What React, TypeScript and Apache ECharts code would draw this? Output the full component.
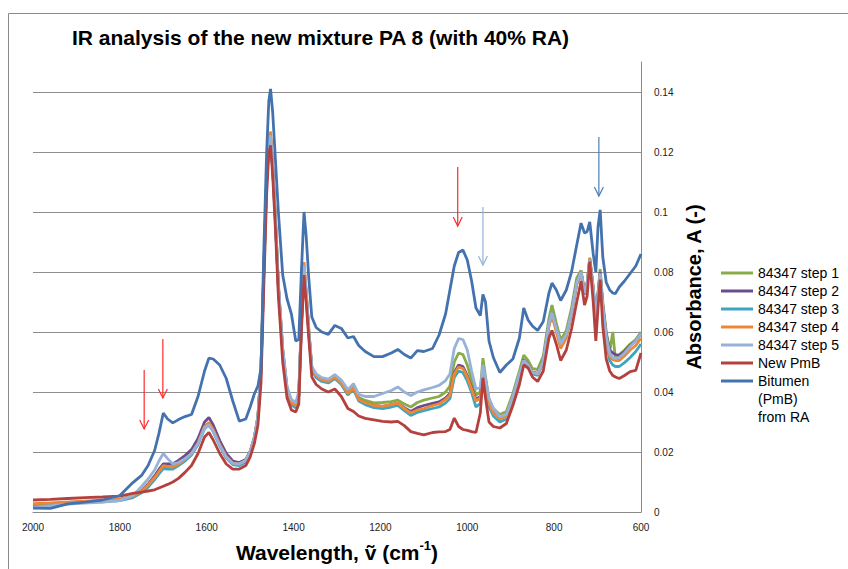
import React, { useEffect, useRef } from "react";
import * as echarts from "echarts";

const wavenumbers = [
  2000, 1960, 1920, 1880, 1840, 1800, 1770, 1750, 1735, 1720,
  1710, 1700, 1690, 1678, 1665, 1650, 1635, 1620, 1605, 1595,
  1585, 1570, 1555, 1540, 1525, 1510, 1500, 1490, 1482, 1475,
  1468, 1462, 1457, 1453, 1448, 1442, 1435, 1425, 1415, 1405,
  1395, 1388, 1382, 1376, 1371, 1365, 1358, 1348, 1335, 1320,
  1305, 1290, 1275, 1262, 1250, 1235, 1215, 1195, 1175, 1160,
  1145, 1130, 1115, 1100, 1080, 1065, 1050, 1040, 1030, 1020,
  1010, 1000, 990, 980, 970, 964, 958, 950, 940, 925,
  910, 895, 880, 870, 860, 850, 838, 825, 812, 805,
  795, 785, 772, 760, 748, 738, 730, 724, 718, 710,
  704, 699, 694, 688, 680, 672, 665, 659, 650, 638,
  625, 612, 600,
];

const step1 = [
  0.0022, 0.0026, 0.0030, 0.0034, 0.0036, 0.0040, 0.0050, 0.0066, 0.0085, 0.0110,
  0.0130, 0.0150, 0.0148, 0.0150, 0.0162, 0.0178, 0.0198, 0.0232, 0.0285, 0.0295,
  0.0272, 0.0222, 0.0183, 0.0162, 0.0160, 0.0172, 0.0200, 0.0248, 0.0318, 0.0475,
  0.0830, 0.1110, 0.1235, 0.1250, 0.1145, 0.0980, 0.0755, 0.0540, 0.0412, 0.0368,
  0.0358, 0.0392, 0.0630, 0.0820, 0.0730, 0.0605, 0.0482, 0.0458, 0.0445, 0.0440,
  0.0455, 0.0435, 0.0400, 0.0420, 0.0382, 0.0372, 0.0364, 0.0365, 0.0368, 0.0373,
  0.0360, 0.0350, 0.0365, 0.0373, 0.0380, 0.0385, 0.0400, 0.0420, 0.0500, 0.0530,
  0.0525, 0.0490, 0.0440, 0.0390, 0.0400, 0.0513, 0.0450, 0.0375, 0.0345, 0.0325,
  0.0335, 0.0395, 0.0470, 0.0523, 0.0505, 0.0478, 0.0475, 0.0520, 0.0645, 0.0690,
  0.0630, 0.0573, 0.0605, 0.0680, 0.0780, 0.0805, 0.0735, 0.0765, 0.0848, 0.0750,
  0.0650, 0.0730, 0.0810, 0.0700, 0.0600, 0.0535, 0.0600, 0.0510, 0.0525, 0.0540,
  0.0560, 0.0575, 0.0600,
];

const step2 = [
  0.0025, 0.0028, 0.0032, 0.0035, 0.0037, 0.0041, 0.0053, 0.0072, 0.0093, 0.0120,
  0.0142, 0.0160, 0.0160, 0.0160, 0.0172, 0.0188, 0.0208, 0.0245, 0.0300, 0.0315,
  0.0290, 0.0238, 0.0195, 0.0170, 0.0165, 0.0175, 0.0202, 0.0250, 0.0318, 0.0475,
  0.0830, 0.1105, 0.1232, 0.1248, 0.1145, 0.0980, 0.0752, 0.0535, 0.0408, 0.0362,
  0.0352, 0.0388, 0.0628, 0.0815, 0.0728, 0.0602, 0.0478, 0.0453, 0.0440, 0.0435,
  0.0450, 0.0430, 0.0395, 0.0412, 0.0375, 0.0365, 0.0355, 0.0352, 0.0358, 0.0362,
  0.0348, 0.0335, 0.0348, 0.0355, 0.0362, 0.0367, 0.0380, 0.0395, 0.0465, 0.0490,
  0.0485, 0.0455, 0.0415, 0.0375, 0.0385, 0.0485, 0.0435, 0.0362, 0.0333, 0.0312,
  0.0322, 0.0382, 0.0455, 0.0508, 0.0492, 0.0466, 0.0462, 0.0505, 0.0628, 0.0665,
  0.0610, 0.0555, 0.0588, 0.0665, 0.0765, 0.0800, 0.0730, 0.0760, 0.0842, 0.0745,
  0.0648, 0.0725, 0.0800, 0.0688, 0.0592, 0.0540, 0.0530, 0.0525, 0.0522, 0.0535,
  0.0555, 0.0570, 0.0595,
];

const step3 = [
  0.0020, 0.0024, 0.0029, 0.0032, 0.0034, 0.0038, 0.0048, 0.0064, 0.0083, 0.0108,
  0.0127, 0.0145, 0.0143, 0.0143, 0.0155, 0.0170, 0.0190, 0.0225, 0.0278, 0.0290,
  0.0268, 0.0220, 0.0180, 0.0158, 0.0155, 0.0167, 0.0195, 0.0245, 0.0315, 0.0470,
  0.0825, 0.1100, 0.1225, 0.1240, 0.1140, 0.0975, 0.0748, 0.0530, 0.0403, 0.0357,
  0.0347, 0.0383, 0.0622, 0.0810, 0.0722, 0.0598, 0.0472, 0.0448, 0.0435, 0.0430,
  0.0445, 0.0425, 0.0390, 0.0408, 0.0370, 0.0358, 0.0348, 0.0345, 0.0350, 0.0355,
  0.0338, 0.0322, 0.0332, 0.0338, 0.0345, 0.0350, 0.0363, 0.0378, 0.0448, 0.0470,
  0.0465, 0.0437, 0.0398, 0.0350, 0.0362, 0.0470, 0.0420, 0.0350, 0.0320, 0.0300,
  0.0310, 0.0372, 0.0445, 0.0500, 0.0485, 0.0460, 0.0455, 0.0498, 0.0620, 0.0658,
  0.0605, 0.0552, 0.0585, 0.0660, 0.0758, 0.0795, 0.0725, 0.0755, 0.0838, 0.0738,
  0.0640, 0.0718, 0.0792, 0.0675, 0.0570, 0.0505, 0.0490, 0.0485, 0.0485, 0.0498,
  0.0515, 0.0535, 0.0560,
];

const step4 = [
  0.0028, 0.0030, 0.0033, 0.0036, 0.0038, 0.0042, 0.0052, 0.0070, 0.0090, 0.0115,
  0.0135, 0.0155, 0.0152, 0.0150, 0.0160, 0.0175, 0.0195, 0.0230, 0.0285, 0.0298,
  0.0275, 0.0225, 0.0185, 0.0163, 0.0160, 0.0172, 0.0200, 0.0250, 0.0320, 0.0480,
  0.0840, 0.1120, 0.1250, 0.1268, 0.1160, 0.0990, 0.0760, 0.0540, 0.0410, 0.0365,
  0.0355, 0.0390, 0.0640, 0.0833, 0.0740, 0.0610, 0.0480, 0.0455, 0.0440, 0.0435,
  0.0450, 0.0430, 0.0395, 0.0415, 0.0375, 0.0365, 0.0355, 0.0352, 0.0358, 0.0363,
  0.0345, 0.0330, 0.0340, 0.0345, 0.0355, 0.0360, 0.0375, 0.0390, 0.0460, 0.0483,
  0.0478, 0.0450, 0.0410, 0.0370, 0.0380, 0.0480, 0.0430, 0.0360, 0.0330, 0.0310,
  0.0320, 0.0380, 0.0450, 0.0505, 0.0490, 0.0465, 0.0460, 0.0500, 0.0620, 0.0655,
  0.0600, 0.0545, 0.0580, 0.0660, 0.0760, 0.0800, 0.0730, 0.0760, 0.0845, 0.0740,
  0.0640, 0.0720, 0.0795, 0.0680, 0.0580, 0.0520, 0.0508, 0.0505, 0.0505, 0.0520,
  0.0540, 0.0555, 0.0580,
];

const step5 = [
  0.0015, 0.0020, 0.0026, 0.0030, 0.0033, 0.0038, 0.0055, 0.0085, 0.0110, 0.0140,
  0.0170, 0.0195, 0.0178, 0.0160, 0.0165, 0.0178, 0.0195, 0.0228, 0.0280, 0.0290,
  0.0268, 0.0222, 0.0183, 0.0162, 0.0160, 0.0172, 0.0200, 0.0250, 0.0320, 0.0478,
  0.0830, 0.1110, 0.1238, 0.1255, 0.1150, 0.0985, 0.0760, 0.0545, 0.0418, 0.0375,
  0.0365, 0.0400, 0.0635, 0.0822, 0.0735, 0.0610, 0.0485, 0.0460, 0.0448, 0.0443,
  0.0458, 0.0440, 0.0408, 0.0428, 0.0392, 0.0385, 0.0385, 0.0395, 0.0405, 0.0417,
  0.0400, 0.0388, 0.0400, 0.0407, 0.0415, 0.0422, 0.0438, 0.0460, 0.0545, 0.0578,
  0.0575, 0.0540, 0.0470, 0.0410, 0.0415, 0.0490, 0.0445, 0.0380, 0.0345, 0.0318,
  0.0325, 0.0385, 0.0460, 0.0505, 0.0490, 0.0465, 0.0460, 0.0505, 0.0630, 0.0665,
  0.0612, 0.0560, 0.0592, 0.0665, 0.0765, 0.0800, 0.0730, 0.0760, 0.0840, 0.0742,
  0.0645, 0.0722, 0.0795, 0.0685, 0.0585, 0.0528, 0.0515, 0.0512, 0.0515, 0.0530,
  0.0552, 0.0570, 0.0595,
];

const newPmB = [
  0.0040, 0.0042, 0.0045, 0.0048, 0.0050, 0.0053, 0.0062, 0.0066, 0.0070, 0.0074,
  0.0080, 0.0086, 0.0092, 0.0100, 0.0112, 0.0132, 0.0155, 0.0195, 0.0250, 0.0265,
  0.0240, 0.0195, 0.0160, 0.0143, 0.0143, 0.0155, 0.0183, 0.0230, 0.0290, 0.0430,
  0.0780, 0.1060, 0.1195, 0.1222, 0.1120, 0.0950, 0.0720, 0.0500, 0.0380, 0.0340,
  0.0333, 0.0360, 0.0600, 0.0790, 0.0700, 0.0580, 0.0450, 0.0425, 0.0410, 0.0400,
  0.0410, 0.0385, 0.0345, 0.0335, 0.0320, 0.0312, 0.0307, 0.0302, 0.0300, 0.0302,
  0.0288, 0.0268, 0.0262, 0.0257, 0.0265, 0.0267, 0.0268, 0.0275, 0.0313, 0.0285,
  0.0275, 0.0272, 0.0268, 0.0265, 0.0330, 0.0447, 0.0380, 0.0300, 0.0285, 0.0280,
  0.0295, 0.0355, 0.0425, 0.0490, 0.0480, 0.0450, 0.0435, 0.0470, 0.0580, 0.0605,
  0.0560, 0.0505, 0.0540, 0.0610, 0.0700, 0.0770, 0.0690, 0.0720, 0.0835, 0.0700,
  0.0570, 0.0680, 0.0775, 0.0620, 0.0510, 0.0470, 0.0455, 0.0450, 0.0445, 0.0455,
  0.0468, 0.0472, 0.0530,
];

const bitumenRA = [
  0.0013, 0.0012, 0.0027, 0.0033, 0.0040, 0.0055, 0.0098, 0.0122, 0.0155, 0.0205,
  0.0262, 0.0330, 0.0310, 0.0297, 0.0308, 0.0318, 0.0325, 0.0385, 0.0470, 0.0513,
  0.0510, 0.0490, 0.0445, 0.0370, 0.0303, 0.0310, 0.0350, 0.0395, 0.0420, 0.0480,
  0.0900, 0.1200, 0.1370, 0.1410, 0.1330, 0.1180, 0.1000, 0.0790, 0.0710, 0.0660,
  0.0570, 0.0575, 0.0800, 0.1000, 0.0920, 0.0780, 0.0650, 0.0615, 0.0600, 0.0592,
  0.0622, 0.0612, 0.0580, 0.0585, 0.0555, 0.0535, 0.0518, 0.0518, 0.0530, 0.0542,
  0.0525, 0.0513, 0.0538, 0.0535, 0.0545, 0.0590, 0.0660, 0.0740, 0.0820, 0.0865,
  0.0873, 0.0840, 0.0770, 0.0680, 0.0655, 0.0725, 0.0700, 0.0570, 0.0515, 0.0465,
  0.0490, 0.0510, 0.0580, 0.0680, 0.0640, 0.0620, 0.0605, 0.0635, 0.0730, 0.0763,
  0.0740, 0.0705, 0.0740, 0.0800, 0.0890, 0.0963, 0.0930, 0.0935, 0.0967, 0.0860,
  0.0800, 0.0950, 0.1007, 0.0850, 0.0765, 0.0740, 0.0730, 0.0728, 0.0750, 0.0770,
  0.0795, 0.0820, 0.0860,
];

const BITUMEN_NAME = "Bitumen (PmB) from RA";
const seriesNames = [
  "84347 step 1",
  "84347 step 2",
  "84347 step 3",
  "84347 step 4",
  "84347 step 5",
  "New PmB",
  BITUMEN_NAME,
];
const seriesValues = [step1, step2, step3, step4, step5, newPmB, bitumenRA];
const seriesColors = ["#88AC48", "#6A4C8F", "#3EA5C0", "#EE8735", "#97B2D8", "#B5413E", "#4472AE"];

// Annotation arrows: wavenumber, absorbance of tail and of tip
const arrows = [
  { w: 1744, from: 0.0473, to: 0.0277, color: "#ff2a2a" },
  { w: 1701, from: 0.0577, to: 0.038, color: "#ff2a2a" },
  { w: 1022, from: 0.115, to: 0.0953, color: "#ff2a2a" },
  { w: 964, from: 0.1017, to: 0.0823, color: "#95b3d7" },
  { w: 697, from: 0.125, to: 0.1053, color: "#4a7ebb" },
];

const FONT = "'Liberation Sans', Arial, Helvetica, sans-serif";

export default function App() {
  const ref = useRef<HTMLDivElement>(null);

  useEffect(() => {
    document.body.style.margin = "0";
    if (!ref.current) return;
    const chart = echarts.init(ref.current, undefined, { renderer: "svg" });

    const baseGraphic: any[] = [
      {
        type: "rect",
        silent: true,
        z: -10,
        shape: { x: 8.5, y: 13.5, width: 900, height: 600 },
        style: { fill: "none", stroke: "#8a8a8a", lineWidth: 1 },
      },
      {
        type: "text",
        x: 758,
        y: 399,
        style: { text: "(PmB)", fontSize: 14, fontFamily: FONT, fill: "#000", verticalAlign: "middle" },
      },
      {
        type: "text",
        x: 758,
        y: 417,
        style: { text: "from RA", fontSize: 14, fontFamily: FONT, fill: "#000", verticalAlign: "middle" },
      },
    ];

    const option: any = {
      animation: false,
      textStyle: { fontFamily: FONT },
      title: {
        text: "IR analysis of the new mixture PA 8 (with 40% RA)",
        left: 72,
        top: 27,
        padding: 0,
        textStyle: { fontSize: 21, fontWeight: "bold", color: "#000", fontFamily: FONT },
      },
      grid: { left: 33, right: 207, top: 62, bottom: 57, containLabel: false },
      legend: {
        orient: "vertical",
        left: 721,
        top: 264,
        padding: 0,
        itemWidth: 32,
        itemHeight: 3,
        itemGap: 0,
        icon: "rect",
        selectedMode: false,
        data: seriesNames,
        formatter: (name: string) => (name === BITUMEN_NAME ? "Bitumen" : name),
        textStyle: { fontSize: 14, color: "#000", lineHeight: 18, fontFamily: FONT },
      },
      xAxis: {
        type: "value",
        min: 600,
        max: 2000,
        interval: 200,
        inverse: true,
        axisLine: { show: true, onZero: false, lineStyle: { color: "#8a8a8a", width: 1 } },
        axisTick: { show: false },
        splitLine: { show: false },
        axisLabel: { fontSize: 10, color: "#222", margin: 10, formatter: (v: number) => String(v) },
        name: "{t|Wavelength, ṽ (cm}{s|-1}{t|)}",
        nameLocation: "middle",
        nameGap: 27,
        nameTextStyle: {
          rich: {
            t: { fontSize: 21, fontWeight: "bold", color: "#000", fontFamily: FONT, lineHeight: 26 },
            s: { fontSize: 13, fontWeight: "bold", color: "#000", fontFamily: FONT, verticalAlign: "top", lineHeight: 26 },
          },
        },
      },
      yAxis: {
        type: "value",
        position: "right",
        min: 0,
        max: 0.15,
        interval: 0.02,
        axisLine: { show: true, onZero: false, lineStyle: { color: "#8a8a8a", width: 1 } },
        axisTick: { show: false },
        splitLine: { show: true, showMaxLine: false, lineStyle: { color: "#8e8e8e", width: 1 } },
        axisLabel: {
          fontSize: 10,
          color: "#222",
          margin: 13,
          showMaxLabel: false,
          formatter: (v: number) => (v === 0 ? "0" : String(+v.toFixed(2))),
        },
        name: "Absorbance, A (-)",
        nameLocation: "middle",
        nameRotate: 90,
        nameGap: 42,
        nameTextStyle: { fontSize: 20, fontWeight: "bold", color: "#000", fontFamily: FONT },
      },
      series: seriesNames.map((name, i) => ({
        type: "line",
        name,
        data: wavenumbers.map((w, j) => [w, seriesValues[i][j]]),
        showSymbol: false,
        symbol: "none",
        color: seriesColors[i],
        lineStyle: { width: 2.8, color: seriesColors[i] },
        itemStyle: { color: seriesColors[i] },
        z: 2 + i,
      })),
      graphic: baseGraphic,
    };

    chart.setOption(option);

    const arrowGraphic: any[] = [];
    arrows.forEach((a) => {
      const p0 = chart.convertToPixel({ gridIndex: 0 }, [a.w, a.from]) as number[];
      const p1 = chart.convertToPixel({ gridIndex: 0 }, [a.w, a.to]) as number[];
      if (!p0 || !p1) return;
      arrowGraphic.push({
        type: "line",
        silent: true,
        z: 20,
        shape: { x1: p0[0], y1: p0[1], x2: p1[0], y2: p1[1] },
        style: { stroke: a.color, lineWidth: 1.2 },
      });
      arrowGraphic.push({
        type: "polyline",
        silent: true,
        z: 20,
        shape: {
          points: [
            [p1[0] - 4.5, p1[1] - 9],
            [p1[0], p1[1]],
            [p1[0] + 4.5, p1[1] - 9],
          ],
        },
        style: { stroke: a.color, lineWidth: 1.2, fill: "none" },
      });
    });

    chart.setOption({ graphic: [...baseGraphic, ...arrowGraphic] });

    return () => {
      chart.dispose();
    };
  }, []);

  return <div ref={ref} style={{ width: 848, height: 569 }} />;
}
